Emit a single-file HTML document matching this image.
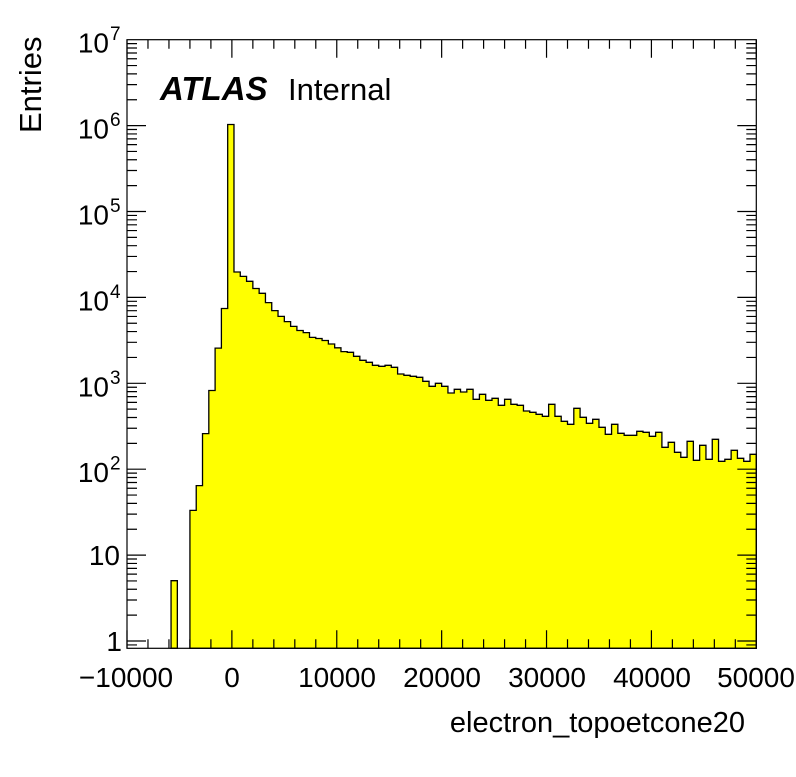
<!DOCTYPE html>
<html><head><meta charset="utf-8"><style>
body{margin:0;background:#fff}
svg text{font-family:"Liberation Sans",sans-serif;fill:#000}
</style></head><body>
<svg id="s" width="796" height="772" xmlns="http://www.w3.org/2000/svg">
<rect width="796" height="772" fill="#fff"/>
<g id="h"></g>
<g id="ax" stroke="#000" stroke-width="1.2" fill="none"></g>
<rect x="127" y="39.7" width="629.3" height="608.6" fill="none" stroke="#000" stroke-width="1.2"/>
<g font-size="28">
<text x="126" y="687" text-anchor="middle">−10000</text>
<text x="232" y="687" text-anchor="middle">0</text>
<text x="337" y="687" text-anchor="middle">10000</text>
<text x="442" y="687" text-anchor="middle">20000</text>
<text x="547" y="687" text-anchor="middle">30000</text>
<text x="652" y="687" text-anchor="middle">40000</text>
<text x="756" y="687" text-anchor="middle">50000</text>
<text x="122" y="651" text-anchor="end">1</text>
<text x="120" y="565" text-anchor="end">10</text>
</g>
<g id="yl" font-size="28"></g>
<text x="745" y="732" font-size="29" text-anchor="end">electron_topoetcone20</text>
<text transform="translate(41,133) rotate(-90)" font-size="31">Entries</text>
<text x="160" y="100" font-size="33" font-weight="bold" font-style="italic">ATLAS</text>
<text x="288" y="100" font-size="31">Internal</text>
</svg>
<script>
var ys={10:510.4,11:485.6,12:433.6,13:390.5,14:348.1,15:308.5,16:124.5,17:272,18:276.4,19:281.3,20:288.5,21:293.3,22:302.6,23:310.6,24:316.4,25:321.6,26:326.4,27:330.5,28:332.6,29:337.4,30:338.5,31:340.5,32:344,33:347.8,34:351.6,35:352.3,36:356.3,37:360.3,38:362.3,39:365.3,40:366.3,41:365.3,42:367.3,43:374,44:375.3,45:376.3,46:377.3,47:381.3,48:386.3,49:383.3,50:386.3,51:393,52:389.3,53:392,54:389.3,55:399.3,56:394.3,57:400.3,58:398.3,59:405.3,60:399.3,61:404.3,62:405.3,63:411,64:412.3,65:414.3,66:416.3,67:404.3,68:416.3,69:421.3,70:424.3,71:408.3,72:417.3,73:423.3,74:419.3,75:427.3,76:434.3,77:424.3,78:433.3,79:435.3,80:435.3,81:431.3,82:432.3,83:436.3,84:432.3,85:447.3,86:442.3,87:452.3,88:457.3,89:441.3,90:460.3,91:445.3,92:459.3,93:439.3,94:461.3,95:459.3,96:450.3,97:458.3,98:461.3,99:454.3};
var B=648.3,X=k=>127+6.293*k;
var d="M"+X(10)+" "+B;
for(var k=10;k<100;k++){d+=" L"+X(k)+" "+ys[k]+" L"+X(k+1)+" "+ys[k];}
d+=" L"+X(100)+" "+B+" Z";
var d2="M"+X(7)+" "+B+" L"+X(7)+" 580.7 L"+X(8)+" 580.7 L"+X(8)+" "+B+" Z";
var NS="http://www.w3.org/2000/svg";
function el(p,t,a){var e=document.createElementNS(NS,t);for(var i in a)e.setAttribute(i,a[i]);p.appendChild(e);return e;}
var h=document.getElementById("h");
el(h,"path",{d:d,fill:"#ffff00",stroke:"#000","stroke-width":"1.3"});
el(h,"path",{d:d2,fill:"#ffff00",stroke:"#000","stroke-width":"1.3"});
var ax=document.getElementById("ax"),p="";
var Y=v=>641-85.9*Math.log10(v);
for(var e=-1;e<7;e++)for(var m=1;m<10;m++){var v=m*Math.pow(10,e),y=Y(v);if(y>B||y<39)continue;var L=m==1?19:10;p+="M127 "+y+" h"+L+" M756.3 "+y+" h"+(-L)+" ";}
for(var x=-10000;x<=50000;x+=2000){var px=127+(x+10000)*629.3/60000,L=(x%10000==0)?18:9;p+="M"+px+" "+B+" v"+(-L)+" M"+px+" 39.7 v"+L+" ";}
el(ax,"path",{d:p});
var yl=document.getElementById("yl");
for(var e=2;e<=7;e++){var y=Y(Math.pow(10,e));var t=el(yl,"text",{x:109,y:y+13,"text-anchor":"end"});t.textContent="10";var s=el(yl,"text",{x:110,y:y+0.5,"font-size":"19"});s.textContent=e;}
</script>
</body></html>
